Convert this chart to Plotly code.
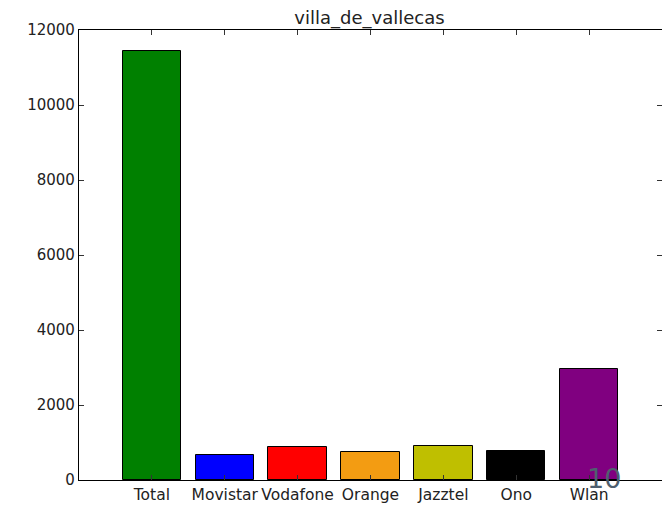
import plotly.graph_objects as go

categories = ["Total", "Movistar", "Vodafone", "Orange", "Jazztel", "Ono", "Wlan"]
values = [11440, 670, 890, 760, 910, 775, 2970]
colors = ["#008000", "#0000ff", "#ff0000", "#f39c12", "#bfbf00", "#000000", "#800080"]
y_ticks = [0, 2000, 4000, 6000, 8000, 10000, 12000]
y_tick_labels = ["0", "2000", "4000", "6000", "8000", "10000", "12000"]
title = "villa_de_vallecas"

fig = go.Figure()
fig.add_trace(go.Bar(
    x=list(range(len(categories))), y=values,
    marker=dict(color=colors, line=dict(color="black", width=1)),
    width=0.8,
))

fig.update_layout(
    width=662, height=498,
    margin=dict(l=71, r=8, t=22, b=26, autoexpand=False),
    paper_bgcolor="white", plot_bgcolor="white",
    font=dict(family="DejaVu Sans", size=15, color="#222"),
    title=dict(text=title, x=0.546, xanchor="center", y=0.981, yanchor="middle",
               font=dict(size=18, color="#222")),
    showlegend=False,
    bargap=0,
)
fig.update_xaxes(
    range=[-1, 7], tickmode="array", tickvals=list(range(len(categories))), ticktext=categories,
    tickfont=dict(size=15.5), tickangle=0,
    ticks="inside", ticklen=5, tickcolor="#333", mirror="allticks", automargin=False,
    showline=True, linecolor="black", linewidth=1.2, showgrid=False, zeroline=False,
)
fig.update_yaxes(
    range=[0, 12000], tickmode="array", tickvals=y_ticks, ticktext=y_tick_labels,
    ticks="inside", ticklen=5, tickcolor="#333", mirror="allticks", automargin=False,
    showline=True, linecolor="black", linewidth=1.2, showgrid=False, zeroline=False,
)
fig.add_annotation(text="10", x=6.2, y=0, xref="x", yref="y", yanchor="middle", yshift=2,
                   showarrow=False, font=dict(size=27, color="#4f5f6f"))

fig.write_html("out.html")
